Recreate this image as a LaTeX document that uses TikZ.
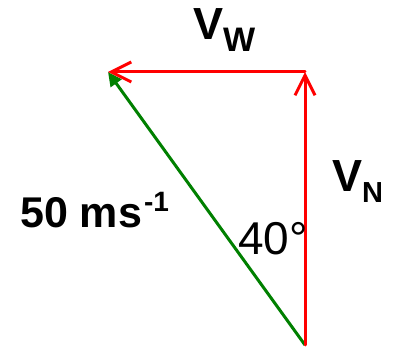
\documentclass[tikz,border=0pt]{standalone}
\usepackage{fontspec}
\setmainfont{Liberation Sans}
\usetikzlibrary{arrows.meta}
\tikzset{
  vec/.style={red, line width=3pt, line cap=round,
    -{Straight Barb[length=20pt,width=20pt,line width=3pt]}},
  res/.style={green!50!black, line width=3pt,
    -{Triangle[length=14pt,width=13pt]}},
  lbl/.style={anchor=base west, inner sep=0pt, text=black}
}
\begin{document}
\begin{tikzpicture}[x=1pt,y=-1pt]
\useasboundingbox (0,0) rectangle (397,350);
\coordinate (O) at (305,345);
\coordinate (C) at (305,72);
\coordinate (L) at (108,72);
\draw[res] (O) -- (L);
\draw[vec] (O) -- (C);
\draw[vec] (C) -- (L);
\node[lbl] (vw) at (193,40) {\fontsize{45}{45}\selectfont\bfseries V\raisebox{-12pt}{\fontsize{34}{34}\selectfont W}};
\node[lbl] (vn) at (332,192) {\fontsize{45}{45}\selectfont\bfseries V\raisebox{-11pt}{\fontsize{29}{29}\selectfont N}};
\node[lbl] (spd) at (20,228) {\fontsize{43}{43}\selectfont\bfseries 50 ms\kern2pt\raisebox{16pt}{\fontsize{28}{28}\selectfont -1}};
\node[lbl] (ang) at (238,255) {\fontsize{46}{46}\selectfont 40°};
\end{tikzpicture}
\end{document}
